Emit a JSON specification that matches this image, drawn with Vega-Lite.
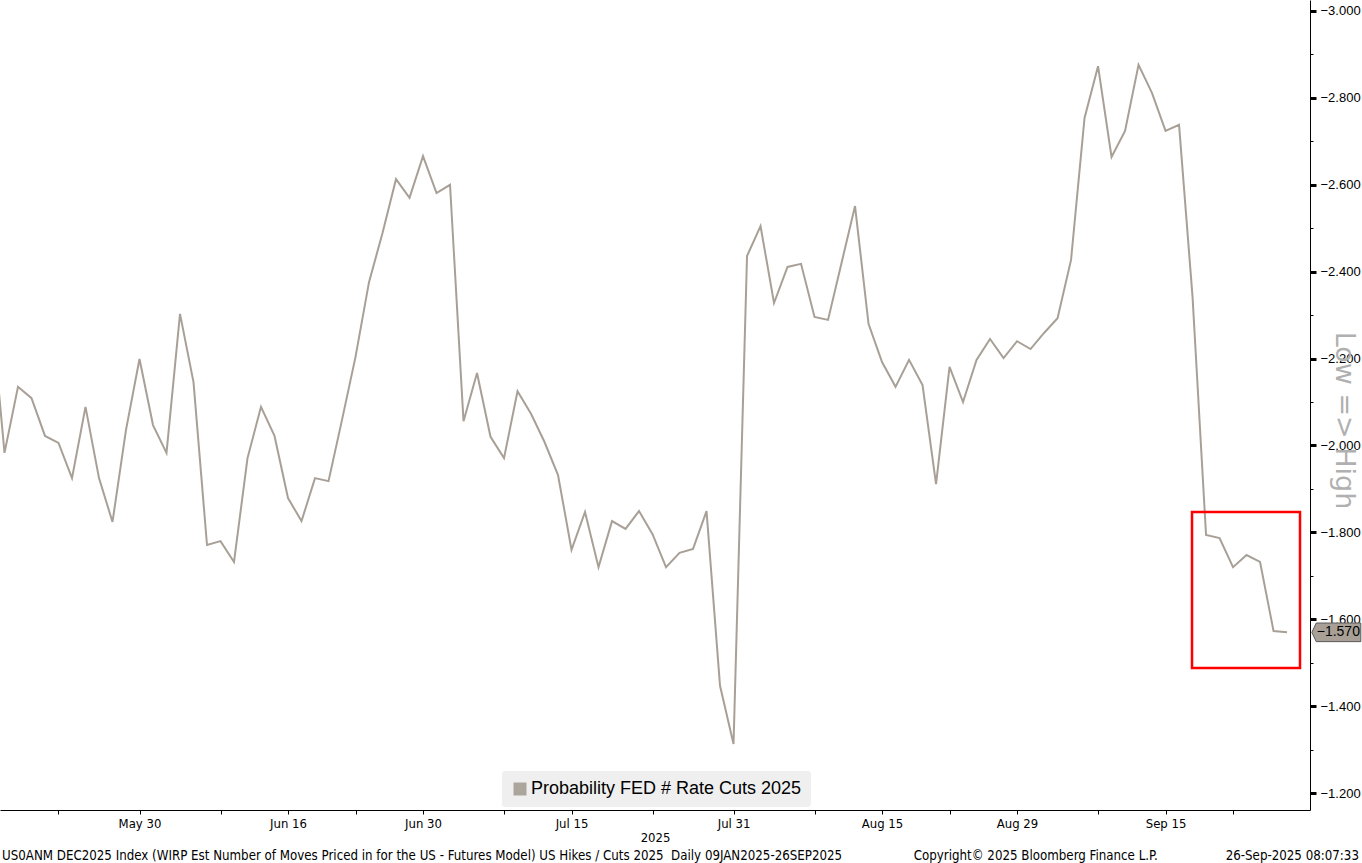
{
  "$schema": "https://vega.github.io/schema/vega-lite/v6.json",
  "width": 1310,
  "height": 810,
  "autosize": {"type": "none"},
  "padding": {"left": 0, "top": 0, "right": 52, "bottom": 53},
  "background": "#ffffff",
  "config": {"view": {"stroke": null}},
  "title": {
    "text": "US0ANM DEC2025 Index (WIRP Est Number of Moves Priced in for the US - Futures Model) US Hikes / Cuts 2025 \u00a0Daily 09JAN2025-26SEP2025\u00a0\u00a0\u00a0\u00a0\u00a0\u00a0\u00a0\u00a0\u00a0\u00a0\u00a0\u00a0\u00a0\u00a0\u00a0\u00a0\u00a0\u00a0\u00a0Copyright© 2025 Bloomberg Finance L.P.\u00a0\u00a0\u00a0\u00a0\u00a0\u00a0\u00a0\u00a0\u00a0\u00a0\u00a0\u00a0\u00a0\u00a0\u00a0\u00a0\u00a0\u00a026-Sep-2025 08:07:33",
    "orient": "bottom",
    "anchor": "start",
    "frame": "group",
    "dx": 2,
    "offset": 6,
    "font": "DejaVu Sans Condensed, Liberation Sans Narrow, Liberation Sans, sans-serif",
    "fontSize": 13.2,
    "fontWeight": "normal",
    "color": "#000000"
  },
  "datasets": {
    "wirp": [
      {"date": "2025-05-15", "d": -1, "v": -2.323},
      {"date": "2025-05-16", "d": 0, "v": -1.983},
      {"date": "2025-05-19", "d": 1, "v": -2.135},
      {"date": "2025-05-20", "d": 2, "v": -2.109},
      {"date": "2025-05-21", "d": 3, "v": -2.022},
      {"date": "2025-05-22", "d": 4, "v": -2.006},
      {"date": "2025-05-23", "d": 5, "v": -1.925},
      {"date": "2025-05-26", "d": 6, "v": -2.089},
      {"date": "2025-05-27", "d": 7, "v": -1.925},
      {"date": "2025-05-28", "d": 8, "v": -1.824},
      {"date": "2025-05-29", "d": 9, "v": -2.036},
      {"date": "2025-05-30", "d": 10, "v": -2.199},
      {"date": "2025-06-02", "d": 11, "v": -2.047},
      {"date": "2025-06-03", "d": 12, "v": -1.983},
      {"date": "2025-06-04", "d": 13, "v": -2.303},
      {"date": "2025-06-05", "d": 14, "v": -2.146},
      {"date": "2025-06-06", "d": 15, "v": -1.771},
      {"date": "2025-06-09", "d": 16, "v": -1.780},
      {"date": "2025-06-10", "d": 17, "v": -1.732},
      {"date": "2025-06-11", "d": 18, "v": -1.971},
      {"date": "2025-06-12", "d": 19, "v": -2.089},
      {"date": "2025-06-13", "d": 20, "v": -2.022},
      {"date": "2025-06-16", "d": 21, "v": -1.879},
      {"date": "2025-06-17", "d": 22, "v": -1.826},
      {"date": "2025-06-18", "d": 23, "v": -1.925},
      {"date": "2025-06-19", "d": 24, "v": -1.918},
      {"date": "2025-06-20", "d": 25, "v": -2.059},
      {"date": "2025-06-23", "d": 26, "v": -2.204},
      {"date": "2025-06-24", "d": 27, "v": -2.376},
      {"date": "2025-06-25", "d": 28, "v": -2.489},
      {"date": "2025-06-26", "d": 29, "v": -2.613},
      {"date": "2025-06-27", "d": 30, "v": -2.570},
      {"date": "2025-06-30", "d": 31, "v": -2.666},
      {"date": "2025-07-01", "d": 32, "v": -2.581},
      {"date": "2025-07-02", "d": 33, "v": -2.600},
      {"date": "2025-07-03", "d": 34, "v": -2.056},
      {"date": "2025-07-04", "d": 35, "v": -2.167},
      {"date": "2025-07-07", "d": 36, "v": -2.020},
      {"date": "2025-07-08", "d": 37, "v": -1.971},
      {"date": "2025-07-09", "d": 38, "v": -2.125},
      {"date": "2025-07-10", "d": 39, "v": -2.073},
      {"date": "2025-07-11", "d": 40, "v": -2.008},
      {"date": "2025-07-14", "d": 41, "v": -1.932},
      {"date": "2025-07-15", "d": 42, "v": -1.760},
      {"date": "2025-07-16", "d": 43, "v": -1.847},
      {"date": "2025-07-17", "d": 44, "v": -1.720},
      {"date": "2025-07-18", "d": 45, "v": -1.826},
      {"date": "2025-07-21", "d": 46, "v": -1.808},
      {"date": "2025-07-22", "d": 47, "v": -1.849},
      {"date": "2025-07-23", "d": 48, "v": -1.796},
      {"date": "2025-07-24", "d": 49, "v": -1.720},
      {"date": "2025-07-25", "d": 50, "v": -1.753},
      {"date": "2025-07-28", "d": 51, "v": -1.762},
      {"date": "2025-07-29", "d": 52, "v": -1.849},
      {"date": "2025-07-30", "d": 53, "v": -1.447},
      {"date": "2025-07-31", "d": 54, "v": -1.313},
      {"date": "2025-08-01", "d": 55, "v": -2.436},
      {"date": "2025-08-04", "d": 56, "v": -2.505},
      {"date": "2025-08-05", "d": 57, "v": -2.328},
      {"date": "2025-08-06", "d": 58, "v": -2.411},
      {"date": "2025-08-07", "d": 59, "v": -2.418},
      {"date": "2025-08-08", "d": 60, "v": -2.296},
      {"date": "2025-08-11", "d": 61, "v": -2.289},
      {"date": "2025-08-12", "d": 62, "v": -2.420},
      {"date": "2025-08-13", "d": 63, "v": -2.551},
      {"date": "2025-08-14", "d": 64, "v": -2.280},
      {"date": "2025-08-15", "d": 65, "v": -2.192},
      {"date": "2025-08-18", "d": 66, "v": -2.135},
      {"date": "2025-08-19", "d": 67, "v": -2.197},
      {"date": "2025-08-20", "d": 68, "v": -2.139},
      {"date": "2025-08-21", "d": 69, "v": -1.911},
      {"date": "2025-08-22", "d": 70, "v": -2.181},
      {"date": "2025-08-25", "d": 71, "v": -2.100},
      {"date": "2025-08-26", "d": 72, "v": -2.197},
      {"date": "2025-08-27", "d": 73, "v": -2.245},
      {"date": "2025-08-28", "d": 74, "v": -2.201},
      {"date": "2025-08-29", "d": 75, "v": -2.240},
      {"date": "2025-09-01", "d": 76, "v": -2.222},
      {"date": "2025-09-02", "d": 77, "v": -2.259},
      {"date": "2025-09-03", "d": 78, "v": -2.293},
      {"date": "2025-09-04", "d": 79, "v": -2.427},
      {"date": "2025-09-05", "d": 80, "v": -2.754},
      {"date": "2025-09-08", "d": 81, "v": -2.873},
      {"date": "2025-09-09", "d": 82, "v": -2.664},
      {"date": "2025-09-10", "d": 83, "v": -2.724},
      {"date": "2025-09-11", "d": 84, "v": -2.876},
      {"date": "2025-09-12", "d": 85, "v": -2.811},
      {"date": "2025-09-15", "d": 86, "v": -2.724},
      {"date": "2025-09-16", "d": 87, "v": -2.738},
      {"date": "2025-09-17", "d": 88, "v": -2.342},
      {"date": "2025-09-18", "d": 89, "v": -1.794},
      {"date": "2025-09-19", "d": 90, "v": -1.787},
      {"date": "2025-09-22", "d": 91, "v": -1.720},
      {"date": "2025-09-23", "d": 92, "v": -1.748},
      {"date": "2025-09-24", "d": 93, "v": -1.732},
      {"date": "2025-09-25", "d": 94, "v": -1.573},
      {"date": "2025-09-26", "d": 95, "v": -1.570}
    ],
    "lastvalue": [{"last": -1.57}]
  },
  "layer": [
    {
      "data": {"name": "wirp"},
      "mark": {"type": "line", "strokeWidth": 2, "clip": true, "interpolate": "linear"},
      "encoding": {
        "x": {
          "field": "d",
          "type": "quantitative",
          "scale": {"domain": [-0.333, 96.7], "nice": false, "zero": false},
          "axis": {
            "orient": "bottom",
            "values": [4, 10, 16, 21, 26, 31, 37, 42, 48, 54, 60, 65, 70, 75, 81, 86, 91],
            "labelExpr": "datum.value==10?'May 30':datum.value==21?'Jun 16':datum.value==31?'Jun 30':datum.value==42?'Jul 15':datum.value==54?'Jul 31':datum.value==65?'Aug 15':datum.value==75?'Aug 29':datum.value==86?'Sep 15':''",
            "grid": false,
            "domainColor": "#000000",
            "domainWidth": 1,
            "tickColor": "#000000",
            "tickSize": 4,
            "labelFont": "DejaVu Sans Condensed, Liberation Sans Narrow, Liberation Sans, sans-serif",
            "labelFontSize": 13,
            "labelColor": "#000000",
            "labelPadding": 3,
            "labelFlush": false,
            "labelOverlap": false,
            "title": "2025",
            "titleFont": "DejaVu Sans Condensed, Liberation Sans Narrow, Liberation Sans, sans-serif",
            "titleFontSize": 13,
            "titleFontWeight": "normal",
            "titleColor": "#000000",
            "titleBaseline": "alphabetic",
            "titleY": 31
          }
        },
        "y": {
          "field": "v",
          "type": "quantitative",
          "scale": {"domain": [-3.0253, -1.1611], "nice": false, "zero": false, "reverse": true},
          "axis": {
            "orient": "right",
            "values": [-3.0, -2.9, -2.8, -2.7, -2.6, -2.5, -2.4, -2.3, -2.2, -2.1, -2.0, -1.9, -1.8, -1.7, -1.6, -1.5, -1.4, -1.3, -1.2],
            "labelExpr": "abs(round(datum.value*5)-datum.value*5)<0.001 ? format(datum.value,'.3f') : ''",
            "grid": false,
            "domainColor": "#000000",
            "tickColor": "#000000",
            "tickSize": {"condition": {"test": "abs(round(datum.value*5)-datum.value*5)<0.001", "value": 6}, "value": 3},
            "tickWidth": {"condition": {"test": "abs(round(datum.value*5)-datum.value*5)<0.001", "value": 3}, "value": 1},
            "labelFont": "Liberation Sans, Arial, sans-serif",
            "labelFontSize": 13,
            "labelColor": "#000000",
            "labelPadding": 4,
            "labelFlush": false,
            "labelOverlap": false,
            "title": "Low => High",
            "titleFont": "DejaVu Sans, sans-serif",
            "titleFontSize": 27,
            "titleFontWeight": "normal",
            "titleColor": "#b0b0b0",
            "titleAngle": 90,
            "titleAlign": "center",
            "titleBaseline": "middle",
            "titleX": 33,
            "titleY": 420
          }
        },
        "color": {
          "datum": "Probability FED # Rate Cuts 2025",
          "scale": {"range": ["#a8a096"]},
          "legend": {
            "title": null,
            "orient": "none",
            "legendX": 502,
            "legendY": 771,
            "fillColor": "#efefef",
            "cornerRadius": 3,
            "padding": 9,
            "symbolType": "square",
            "symbolSize": 169,
            "symbolStrokeWidth": 0,
            "symbolFillColor": "#aca59c",
            "labelFont": "Liberation Sans, Arial, sans-serif",
            "labelFontSize": 18,
            "labelColor": "#000000",
            "labelOffset": 2,
            "labelLimit": 400,
            "encode": {"symbols": {"update": {"fill": {"value": "#aca59c"}, "stroke": {"value": "transparent"}, "strokeWidth": {"value": 0}}}}
          }
        }
      }
    },
    {
      "data": {"name": "lastvalue"},
      "mark": {"type": "rect", "fillOpacity": 0, "stroke": "#ff0000", "strokeWidth": 2.5},
      "encoding": {
        "x": {"datum": 87.96, "type": "quantitative"},
        "x2": {"datum": 95.96},
        "y": {"datum": -1.847, "type": "quantitative"},
        "y2": {"datum": -1.488}
      }
    },
    {
      "data": {"name": "lastvalue"},
      "mark": {"type": "point", "filled": true, "shape": "M-1,0L-0.82,-0.38L1,-0.38L1,0.38L-0.82,0.38Z", "size": 2400, "color": "#a8a096", "stroke": "#5a5a5a", "strokeWidth": 1, "opacity": 1},
      "encoding": {
        "x": {"datum": 98.65, "type": "quantitative"},
        "y": {"field": "last", "type": "quantitative"}
      }
    },
    {
      "data": {"name": "lastvalue"},
      "mark": {"type": "text", "font": "Liberation Sans, Arial, sans-serif", "fontSize": 14, "color": "#000000", "align": "center", "baseline": "middle", "dx": 2},
      "encoding": {
        "x": {"datum": 98.65, "type": "quantitative"},
        "y": {"field": "last", "type": "quantitative"},
        "text": {"field": "last", "type": "quantitative", "format": ".3f"}
      }
    }
  ]
}
